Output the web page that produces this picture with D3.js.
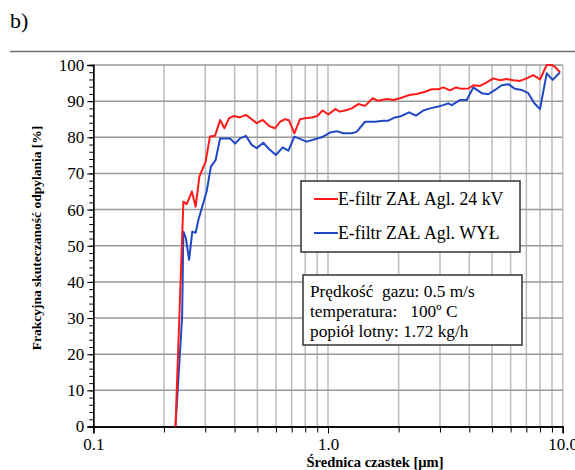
<!DOCTYPE html>
<html><head><meta charset="utf-8">
<script src="https://cdn.jsdelivr.net/npm/d3@7"></script>
<style>
body{margin:0;background:#fff}
svg{display:block}
text{font-family:"Liberation Serif","Times New Roman",serif;fill:#000}
</style></head>
<body><svg id="c" width="575" height="470"></svg>
<script>
// ---- data ----
const panelLabel = "b)";
const seriesNames = ["E-filtr ZAŁ Agl. 24 kV", "E-filtr ZAŁ Agl. WYŁ"];
const seriesColors = ["#ff1a1a", "#1f48c4"];
const yTickValues = [0,10,20,30,40,50,60,70,80,90,100];
const xTickValues = [0.1, 1, 10];
const xTickLabels = ["0.1", "1.0", "10.0"];
const xTitle = "Średnica czastek [µm]";
const yTitle = "Frakcyjna skuteczaność odpylania [%]";
const infoLines = ["Prędkość  gazu: 0.5 m/s", "temperatura:   100º C", "popiół lotny: 1.72 kg/h"];

const sizeRed = [0.224,0.242,0.250,0.263,0.273,0.283,0.291,0.301,0.314,0.330,0.347,0.362,0.379,0.398,0.422,0.447,0.473,0.497,0.527,0.562,0.595,0.625,0.656,0.682,0.719,0.760,0.798,0.852,0.900,0.949,1.003,1.075,1.125,1.182,1.262,1.346,1.438,1.550,1.638,1.779,1.898,2.027,2.220,2.387,2.590,2.766,2.951,3.099,3.310,3.511,3.712,3.961,4.160,4.443,4.745,5.063,5.405,5.773,6.158,6.578,7.024,7.493,8.004,8.548,8.978,9.273,9.739];
const effRed  = [0,62.2,61.5,65.0,60.8,69.1,71.0,73.3,80.2,80.4,84.8,82.5,85.3,85.9,85.5,86.2,85.0,83.9,84.8,83.1,82.5,84.3,85.0,84.7,81.1,85.0,85.3,85.5,85.9,87.4,86.3,87.8,87.1,87.4,88.0,89.2,88.7,90.8,90.1,90.6,90.3,90.8,91.7,92.0,92.6,93.3,93.3,93.8,93.0,93.8,93.4,93.5,94.4,94.2,95.2,96.3,95.8,96.1,95.8,95.6,96.3,97.2,96.0,100,100,99.5,98.0];

const sizeBlue = [0.224,0.239,0.242,0.248,0.256,0.264,0.273,0.280,0.291,0.304,0.317,0.332,0.347,0.364,0.382,0.402,0.422,0.447,0.473,0.497,0.530,0.562,0.600,0.641,0.678,0.719,0.811,0.940,1.020,1.089,1.162,1.262,1.325,1.438,1.586,1.720,1.807,1.930,2.061,2.214,2.371,2.548,2.721,2.951,3.099,3.256,3.366,3.650,3.899,4.160,4.517,4.820,5.148,5.497,5.866,6.263,6.688,7.136,7.568,8.004,8.548,9.066,9.739];
const effBlue  = [0,30.3,53.9,52.1,46.1,53.9,53.6,57.0,60.8,65.0,71.9,73.7,79.7,79.7,79.7,78.3,79.7,80.4,77.9,77.0,78.5,76.7,75.1,77.2,76.3,80.2,78.8,80.0,81.3,81.7,81.1,81.1,81.5,84.3,84.3,84.6,84.6,85.5,85.9,86.9,86.0,87.4,88.0,88.5,88.9,89.4,88.9,90.3,90.3,93.8,92.2,91.9,93.1,94.4,94.7,93.4,93.1,92.2,89.4,87.8,97.7,95.9,98.0];

// ---- drawing ----
const SERIF = '"Liberation Serif","Times New Roman",serif';
const svg = d3.select("#c");
const x = d3.scaleLog().domain([0.1, 10]).range([93.3, 562.7]);
const y = d3.scaleLinear().domain([0, 100]).range([426.5, 65]);

// panel label and separator
svg.append("text").attr("x", 10).attr("y", 28).style("font-family", SERIF).attr("font-size", 22).text(panelLabel);
svg.append("line").attr("x1", 10).attr("x2", 575).attr("y1", 51.5).attr("y2", 51.5)
  .attr("stroke", "#6e6e6e").attr("stroke-width", 1.5);

// grid
const minorX = [];
[0.1, 1].forEach(dec => { for (let k = 2; k <= 9; k++) minorX.push(dec * k); });
const gridX = minorX.concat([1, 10]);
svg.append("g").selectAll("line").data(gridX).join("line")
  .attr("x1", d => x(d)).attr("x2", d => x(d))
  .attr("y1", y(100)).attr("y2", y(0))
  .attr("stroke", "#bdbdbd").attr("stroke-width", 1.5);
svg.append("g").selectAll("line").data(yTickValues.filter(v => v > 0)).join("line")
  .attr("x1", x(0.1)).attr("x2", x(10))
  .attr("y1", d => y(d)).attr("y2", d => y(d))
  .attr("stroke", "#9a9a9a").attr("stroke-width", 1.5);

// y axis
const yMinor = d3.range(0, 101, 2);
const gyMinor = svg.append("g").attr("transform", `translate(${x(0.1)},0)`)
  .call(d3.axisLeft(y).tickValues(yMinor).tickSize(4).tickFormat(""));
const gy = svg.append("g").attr("transform", `translate(${x(0.1)},0)`)
  .call(d3.axisLeft(y).tickValues(yTickValues).tickSize(6).tickPadding(3).tickFormat(d => d));
[gy, gyMinor].forEach(g => {
  g.attr("font-family", null);
  g.select(".domain").attr("stroke", "#000").attr("stroke-width", 1.3);
  g.selectAll(".tick line").attr("stroke", "#000").attr("stroke-width", 1);
});
gy.selectAll(".tick text").style("font-family", SERIF).attr("font-size", 17).attr("fill", "#000").attr("x", -9);

// x axis
const gxMinor = svg.append("g").attr("transform", `translate(0,${y(0)})`)
  .call(d3.axisBottom(x).tickValues(minorX).tickSize(6).tickFormat(""));
const gx = svg.append("g").attr("transform", `translate(0,${y(0)})`)
  .call(d3.axisBottom(x).tickValues(xTickValues).tickSize(7).tickPadding(4)
    .tickFormat((d, i) => xTickLabels[i]));
[gx, gxMinor].forEach(g => {
  g.attr("font-family", null);
  g.select(".domain").attr("stroke", "#000").attr("stroke-width", 1.3);
  g.selectAll(".tick line").attr("stroke", "#000").attr("stroke-width", 1);
});
gx.selectAll(".tick text").style("font-family", SERIF).attr("font-size", 17).attr("fill", "#000");

// axis titles
svg.append("text").attr("x", 375).attr("y", 467).attr("text-anchor", "middle").style("font-family", SERIF)
  .attr("font-size", 14.5).attr("font-weight", "bold").text(xTitle);
svg.append("text").attr("transform", "translate(41,238) rotate(-90)").attr("text-anchor", "middle").style("font-family", SERIF)
  .attr("font-size", 13.5).attr("font-weight", "bold").text(yTitle);

// series
const line = d3.line().x(d => x(d[0])).y(d => y(d[1]));
const series = [d3.zip(sizeRed, effRed), d3.zip(sizeBlue, effBlue)];
[1, 0].forEach(i => {
  svg.append("path").datum(series[i]).attr("d", line)
    .attr("fill", "none").attr("stroke", seriesColors[i]).attr("stroke-width", 2)
    .attr("stroke-linejoin", "round");
});

// legend
const lg = svg.append("g");
lg.append("rect").attr("x", 301).attr("y", 181).attr("width", 219).attr("height", 71)
  .attr("fill", "#fff").attr("stroke", "#333").attr("stroke-width", 1.5);
seriesNames.forEach((name, i) => {
  const ly = 199 + i * 34;
  lg.append("line").attr("x1", 314).attr("x2", 338).attr("y1", ly).attr("y2", ly)
    .attr("stroke", seriesColors[i]).attr("stroke-width", 2);
  lg.append("text").attr("x", 338).attr("y", ly + 6).style("font-family", SERIF).attr("font-size", 17.8).text(name);
});

// info box
const ib = svg.append("g");
ib.append("rect").attr("x", 303).attr("y", 275).attr("width", 219).attr("height", 70)
  .attr("fill", "#fff").attr("stroke", "#333").attr("stroke-width", 1.5);
infoLines.forEach((t, i) => {
  ib.append("text").attr("x", 310).attr("y", 297 + i * 20).style("font-family", SERIF).attr("font-size", 17.3)
    .attr("xml:space", "preserve").style("white-space", "pre").text(t);
});
</script></body></html>
